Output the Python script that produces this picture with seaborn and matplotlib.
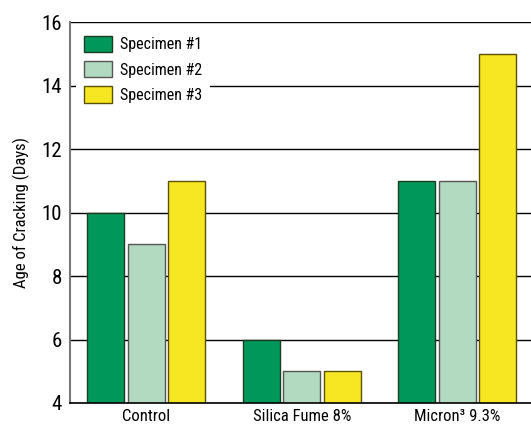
import pandas as pd
import matplotlib
matplotlib.use("Agg")
import matplotlib.pyplot as plt
import matplotlib.patches as mpatches
import seaborn as sns

groups = ["Control", "Silica Fume 8%", "Micron³ 9.3%"]
specimens = ["Specimen #1", "Specimen #2", "Specimen #3"]
specimen1 = [10, 6, 11]
specimen2 = [9, 5, 11]
specimen3 = [11, 5, 15]

colors = ["#00985a", "#b2dac0", "#f7e622"]
edges = ["#1a3d20", "#555555", "#5a5200"]

rows = []
for vals, name in zip([specimen1, specimen2, specimen3], specimens):
    for g, v in zip(groups, vals):
        rows.append({"Group": g, "Specimen": name, "Days": v})
df = pd.DataFrame(rows)

sns.set_style("white")
plt.rcParams["font.family"] = ["Roboto Condensed", "Liberation Sans", "DejaVu Sans"]
plt.rcParams["text.color"] = "black"
plt.rcParams["xtick.color"] = "black"
plt.rcParams["ytick.color"] = "black"
plt.rcParams["axes.labelcolor"] = "black"

fig = plt.figure(figsize=(5.31, 4.26), dpi=100)
ax = fig.add_axes([0.132, 0.054, 0.868, 0.894])

ax.set_axisbelow(True)
ax.yaxis.grid(True, color="black", linewidth=1.0)

sns.barplot(data=df, x="Group", y="Days", hue="Specimen", palette=colors,
            saturation=1, width=0.78, gap=0.08, ax=ax, legend=False, bottom=0)

for container, ec in zip(ax.containers, edges):
    for bar in container:
        bar.set_edgecolor(ec)
        bar.set_linewidth(1.0)

ax.set_ylim(4, 16)
ax.set_xlim(-0.49, 2.475)
ax.set_yticks([4, 6, 8, 10, 12, 14, 16])
ax.tick_params(axis="y", length=0, labelsize=15, pad=6)
ax.tick_params(axis="x", which="major", length=0, labelsize=12, pad=4)
ax.set_xticks([0.5, 1.5], minor=True)
ax.tick_params(axis="x", which="minor", direction="in", length=4, width=1, color="black")
ax.set_xlabel("")
ax.set_ylabel("Age of Cracking (Days)", fontsize=12, labelpad=8)

ax.spines["right"].set_visible(False)
ax.spines["top"].set_visible(False)
ax.spines["left"].set_color("#777777")
ax.spines["left"].set_linewidth(1.5)
ax.spines["bottom"].set_color("black")
ax.spines["bottom"].set_linewidth(1.2)

handles = [mpatches.Patch(facecolor=c, edgecolor=e, linewidth=1.0, label=s)
           for c, e, s in zip(colors, edges, specimens)]
leg = ax.legend(handles=handles, loc="upper left", bbox_to_anchor=(0.0, 1.0),
                frameon=True, fancybox=False, edgecolor="white", facecolor="white",
                framealpha=1, fontsize=11.5, handlelength=1.75, handleheight=1.2,
                labelspacing=0.55, handletextpad=0.55, borderpad=0.45, borderaxespad=0.4)
leg.get_frame().set_linewidth(0)

plt.savefig("out.png", dpi=100)
